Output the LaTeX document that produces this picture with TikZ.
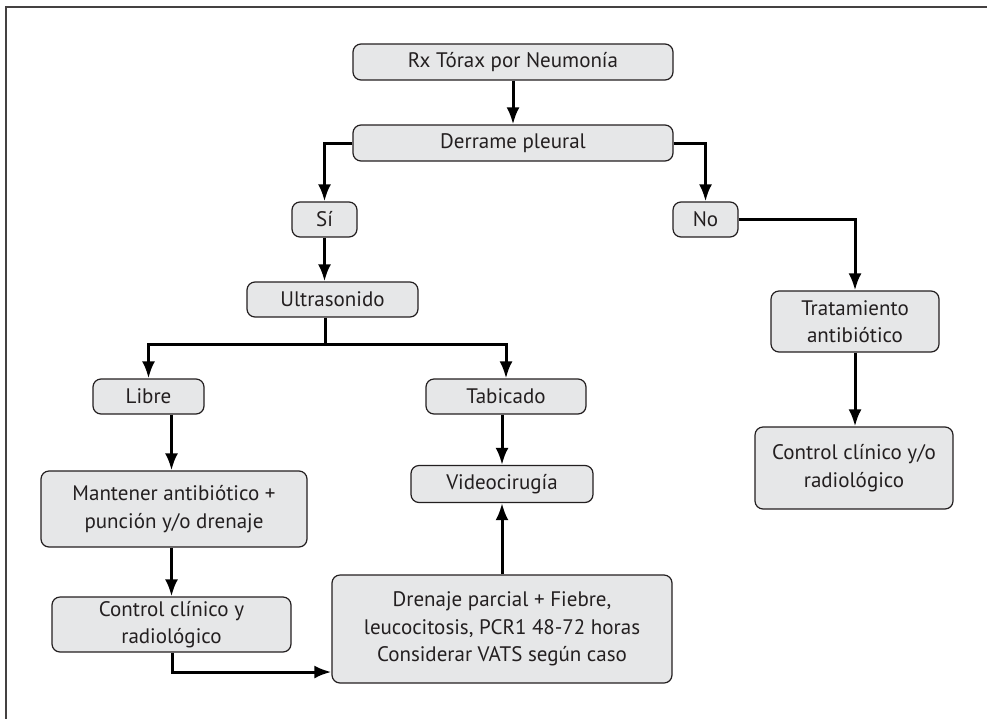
\documentclass[tikz,border=0pt]{standalone}
\usepackage{fontspec}
\setmainfont{PT Sans}
\usetikzlibrary{arrows.meta,positioning}
\definecolor{boxgray}{HTML}{E6E7E8}
\definecolor{ink}{HTML}{231F20}

\begin{document}
\begin{tikzpicture}[x=1pt, y=-1pt, >={Latex[length=17pt,width=13pt]},
   box/.style={draw=ink, line width=1.2pt, fill=boxgray, rounded corners=8pt, align=center, text=ink, inner sep=0pt, font=\fontsize{21}{27.5}\selectfont},
   flow/.style={->, line width=3pt}]
\useasboundingbox (0,0) rectangle (987,718);
\draw[line width=1.5pt, draw=ink!85] (995,7) -- (6,7) -- (6,725);
   \begin{scope}[every node/.append style={box}]
\node[minimum width=320pt, minimum height=36pt] (rx) at (513,62) {Rx Tórax por Neumonía};
\node[minimum width=320pt, minimum height=36pt] (derrame) at (513,143) {Derrame pleural};
\node[minimum width=65pt, minimum height=35pt] (si) at (324.5,219.5) {Sí};
\node[minimum width=65pt, minimum height=35pt] (no) at (705.5,219.5) {No};
\node[minimum width=171pt, minimum height=35pt] (ultra) at (332.5,299.5) {Ultrasonido};
\node[minimum width=111pt, minimum height=35pt] (libre) at (148.5,396.5) {Libre};
\node[minimum width=160pt, minimum height=35pt] (tabic) at (506,396.5) {Tabicado};
\node[minimum width=182pt, minimum height=37pt] (video) at (502,484) {Videocirugía};
\node[minimum width=266pt, minimum height=76pt] (mant) at (174,509) {Mantener antibiótico +\\punción y/o drenaje};
\node[minimum width=239pt, minimum height=55pt] (ctrl) at (171.5,624.5) {Control clínico y\\radiológico};
\node[minimum width=340pt, minimum height=108pt] (dren) at (502,629) {Drenaje parcial + Fiebre,\\leucocitosis, PCR1 48-72 horas\\Considerar VATS según caso};
\node[minimum width=168pt, minimum height=61pt] (trat) at (855,321.5) {Tratamiento\\antibiótico};
\node[minimum width=198pt, minimum height=82pt] (ctrlno) at (854,468) {Control clínico y/o\\radiológico};
   \end{scope}
\coordinate (split) at (325,344);
\coordinate (turn) at (172,672);
\draw[flow] (rx) -- (derrame);
\draw[flow] (derrame.west) -| (si.north);
\draw[flow] (derrame.east) -| (no.north);
\draw[flow] (si) -- (si |- ultra.north);
\draw[line width=3pt] (split |- ultra.south) -- (split);
\foreach \b in {libre,tabic}
   \draw[flow] (split) -| (\b.north);
\draw[flow] (libre.south -| ctrl.north) -- (mant.north -| ctrl.north);
\draw[flow] (mant.south -| ctrl.north) -- (ctrl.north);
\draw[flow] (video.north |- tabic.south) -- (video.north);
\draw[flow] (ctrl.south -| turn) -- (turn) -- (turn -| dren.west);
\draw[flow] (dren.north) -- (video.south);
\draw[flow] (no.east) -| (trat.north);
\draw[flow] (trat.south) -- (trat.south |- ctrlno.north);
\end{tikzpicture}
\end{document}
